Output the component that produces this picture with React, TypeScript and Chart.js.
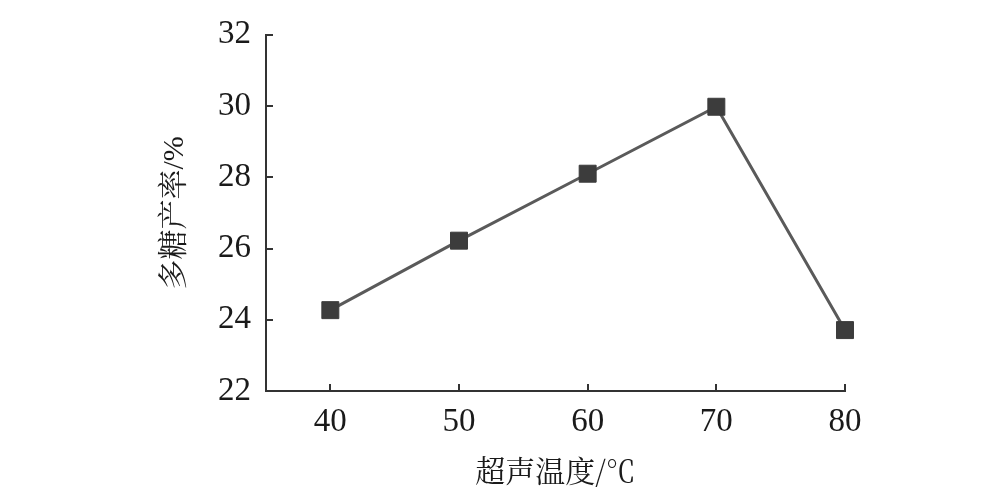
import React, { useEffect, useRef } from "react";
import { Chart, registerables } from "chart.js";

Chart.register(...registerables);

const temperatures = [40, 50, 60, 70, 80];
const yieldValues = [24.27, 26.22, 28.1, 29.98, 23.71];
const yTickValues = [22, 24, 26, 28, 30, 32];
const xTitle = "超声温度/℃";
const yTitle = "多糖产率/%";

const NUM_FONT = "'Liberation Serif', 'Times New Roman', serif";
const X_TITLE_FONT = "'Noto Serif CJK SC', 'Liberation Serif', serif";
const Y_TITLE_FONT = "'Liberation Serif', 'Noto Serif CJK SC', serif";

const innerTicks = {
  id: "innerTicks",
  afterDraw(chart: any) {
    const ctx = chart.ctx;
    const xs = chart.scales.x;
    const ys = chart.scales.y;
    const axisY = ys.getPixelForValue(ys.min);
    const axisX = xs.getPixelForValue(xs.min);
    ctx.save();
    ctx.strokeStyle = "#333";
    ctx.lineWidth = 2;
    ctx.beginPath();
    xs.ticks.forEach((t: any) => {
      const px = Math.round(xs.getPixelForValue(t.value));
      ctx.moveTo(px, axisY);
      ctx.lineTo(px, axisY - 7);
    });
    ys.ticks.forEach((t: any) => {
      const py = Math.round(ys.getPixelForValue(t.value));
      ctx.moveTo(axisX, py);
      ctx.lineTo(axisX + 7, py);
    });
    ctx.stroke();
    ctx.restore();
  },
};

export default function App() {
  const ref = useRef<HTMLCanvasElement>(null);
  useEffect(() => {
    document.body.style.margin = "0";
    const chart = new Chart(ref.current!, {
      type: "line",
      data: {
        datasets: [
          {
            data: temperatures.map((t, i) => ({ x: t, y: yieldValues[i] })),
            borderColor: "#5a5a5a",
            borderWidth: 3,
            pointStyle: "rect",
            pointRadius: 12,
            pointBackgroundColor: "#3c3c3c",
            pointBorderColor: "#3c3c3c",
            pointBorderWidth: 1,
            clip: false as any,
          },
        ],
      },
      options: {
        animation: false,
        responsive: false,
        plugins: { legend: { display: false }, tooltip: { enabled: false } },
        layout: { padding: { left: 157, right: 149, top: 34, bottom: 0 } },
        scales: {
          x: {
            type: "linear",
            min: 35,
            max: 80,
            afterBuildTicks: (s: any) => {
              s.ticks = temperatures.map((v) => ({ value: v }));
            },
            afterFit: (s: any) => {
              s.height = 493 - 391;
            },
            grid: { display: false, drawTicks: false },
            border: { display: true, color: "#333", width: 2 },
            ticks: {
              color: "#1a1a1a",
              font: { family: NUM_FONT, size: 33 },
              padding: 12,
              maxRotation: 0,
            },
            title: {
              display: true,
              text: xTitle,
              color: "#1a1a1a",
              font: { family: X_TITLE_FONT, size: 30 },
              padding: { top: 0, bottom: 4 },
            },
          },
          y: {
            min: 22,
            max: 32,
            afterBuildTicks: (s: any) => {
              s.ticks = yTickValues.map((v) => ({ value: v }));
            },
            afterFit: (s: any) => {
              s.width = 266 - 157;
            },
            grid: { display: false, drawTicks: false },
            border: { display: true, color: "#333", width: 2 },
            ticks: {
              color: "#1a1a1a",
              font: { family: NUM_FONT, size: 33 },
              padding: 15,
            },
            title: {
              display: true,
              text: yTitle,
              color: "#1a1a1a",
              font: { family: Y_TITLE_FONT, size: 30 },
              padding: { top: 0, bottom: 0 },
            },
          },
        },
      },
      plugins: [innerTicks],
    });
    return () => chart.destroy();
  }, []);
  return (
    <div style={{ width: 994, height: 493, background: "#fff" }}>
      <canvas ref={ref} width={994} height={493} style={{ display: "block" }} />
    </div>
  );
}
